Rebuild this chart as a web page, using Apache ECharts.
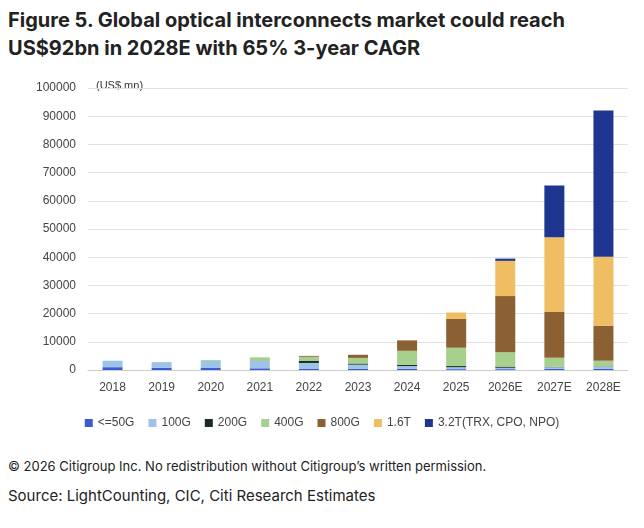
<!DOCTYPE html>
<html>
<head>
<meta charset="utf-8">
<title>Optical interconnects</title>
<script src="https://cdn.jsdelivr.net/npm/echarts@6/dist/echarts.min.js"></script>
<style>
  body { margin:0; background:#fff; font-family:"Inter","Noto Sans",sans-serif; }
  #title { position:absolute; left:8px; top:6px; font-size:20px; font-weight:700; line-height:28px; color:#222; }
  #chart { position:absolute; left:0; top:70px; width:644px; height:370px; }
  .foot { position:absolute; left:8px; color:#222; }
</style>
</head>
<body>
<div id="title">Figure 5. Global optical interconnects market could reach<br>US$92bn in 2028E with 65% 3-year CAGR</div>
<div id="chart"></div>
<div class="foot" style="top:458px;font-size:13px;">© 2026 Citigroup Inc. No redistribution without Citigroup’s written permission.</div>
<div class="foot" style="top:486px;font-size:15px;">Source: LightCounting, CIC, Citi Research Estimates</div>
<script>
var years = ['2018','2019','2020','2021','2022','2023','2024','2025','2026E','2027E','2028E'];
var s50  = [1000, 800, 700, 600, 500, 400, 400, 300, 300, 400, 400];
var s100 = [2300,2000,2500,2600,2000,1500,1000, 700, 500, 600, 800];
var s200 = [   0,   0,   0, 100, 700, 400, 400, 400, 400, 100, 100];
var s400 = [   0,   0, 300,1200,1500,2000,5000,6500,5100,3200,2000];
var s800 = [   0,   0,   0,   0, 300,1100,3700,10200,19900,16300,12400];
var s16t = [   0,   0,   0,   0,   0,   0,   0,2300,12500,26500,24500];
var s32t = [   0,   0,   0,   0,   0,   0,   0,   0, 800,18300,51800];

var names = ['<=50G','100G','200G','400G','800G','1.6T','3.2T(TRX, CPO, NPO)'];
var colors = ['#3b5bd0','#9dc3e8','#1c2b26','#a8d08d','#8b6032','#efbe62','#1f3690'];
var values = [s50,s100,s200,s400,s800,s16t,s32t];

var chart = echarts.init(document.getElementById('chart'));
chart.setOption({
  animation:false,
  grid:{left:88,right:16,top:18,bottom:70},
  legend:{bottom:6,left:'center',itemWidth:8,itemHeight:8,itemGap:14,icon:'rect',
    textStyle:{fontSize:12,color:'#444'},data:names},
  graphic:[{type:'text',left:96,top:10,style:{text:'(US$ mn)',fontSize:11,fill:'#333'}}],
  xAxis:{type:'category',data:years,axisTick:{show:false},
    axisLine:{lineStyle:{color:'#ccc'}},axisLabel:{color:'#444',fontSize:12,margin:12}},
  yAxis:{type:'value',min:0,max:100000,interval:10000,
    axisLabel:{color:'#444',fontSize:12,margin:12,formatter:function(v){return String(v);}},
    splitLine:{lineStyle:{color:'#e2e2e2'}}},
  series:values.map(function(v,i){
    return {name:names[i],type:'bar',stack:'t',data:v,barWidth:20,itemStyle:{color:colors[i]}};
  })
});
</script>
</body>
</html>
